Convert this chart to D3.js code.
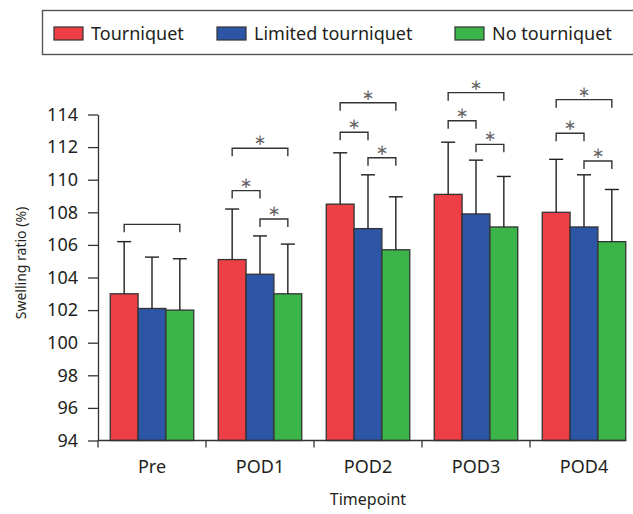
<!DOCTYPE html>
<html>
<head>
<meta charset="utf-8">
<script src="https://cdn.jsdelivr.net/npm/d3@7"></script>
<style>
  body { margin: 0; background: #fff; }
  svg { display: block; font-family: "Noto Sans", sans-serif; }
</style>
</head>
<body>
<svg id="chart" width="633" height="514"></svg>
<script>
// values
const timepoints = ["Pre", "POD1", "POD2", "POD3", "POD4"];
const groups = ["Tourniquet", "Limited tourniquet", "No tourniquet"];
const groupColors = ["#ee3e46", "#2c56a5", "#3bb44a"];

const meanTourniquet = [103.0, 105.1, 108.5, 109.1, 108.0];
const meanLimited    = [102.1, 104.2, 107.0, 107.9, 107.1];
const meanNone       = [102.0, 103.0, 105.7, 107.1, 106.2];

const sdTourniquet = [3.2, 3.1, 3.15, 3.2, 3.25];
const sdLimited    = [3.15, 2.35, 3.3, 3.3, 3.2];
const sdNone       = [3.15, 3.05, 3.25, 3.1, 3.2];

const yTicks = [94, 96, 98, 100, 102, 104, 106, 108, 110, 112, 114];

// significance brackets: timepoint, from group, to group, level (% units), star
const brTime  = ["Pre", "POD1", "POD1", "POD1", "POD2", "POD2", "POD2", "POD3", "POD3", "POD3", "POD4", "POD4", "POD4"];
const brFrom  = [0, 0, 0, 1, 0, 0, 1, 0, 0, 1, 0, 0, 1];
const brTo    = [2, 2, 1, 2, 2, 1, 2, 2, 1, 2, 2, 1, 2];
const brLevel = [107.26, 111.93, 109.33, 107.59, 114.72, 112.91, 111.35, 115.34, 113.62, 112.17, 114.91, 112.85, 111.15];
const brStar  = [false, true, true, true, true, true, true, true, true, true, true, true, true];

const means = [meanTourniquet, meanLimited, meanNone];
const sds = [sdTourniquet, sdLimited, sdNone];

const svg = d3.select("#chart");
const ink = "#231f20";

const y = d3.scaleLinear().domain([94, 114]).range([440.5, 114.5]);
const x0 = d3.scaleBand().domain(timepoints).range([98, 638]);
const x1 = d3.scaleBand().domain(groups).range([0, x0.bandwidth()])
    .paddingInner(0).paddingOuter(0.44);

const rows = [];
timepoints.forEach(function(t, i) {
    groups.forEach(function(g, j) {
        rows.push({ t: t, g: g, j: j, mean: means[j][i], sd: sds[j][i] });
    });
});

function cx(t, g) { return x0(t) + x1(g) + x1.bandwidth() / 2; }

// bars
svg.append("g").selectAll("rect")
    .data(rows)
    .enter().append("rect")
    .attr("x", function(d) { return x0(d.t) + x1(d.g); })
    .attr("y", function(d) { return y(d.mean); })
    .attr("width", x1.bandwidth())
    .attr("height", function(d) { return y(94) - y(d.mean); })
    .attr("fill", function(d) { return groupColors[d.j]; })
    .attr("stroke", "#333")
    .attr("stroke-width", 1.3);

// error bars (upper only)
const eb = svg.append("g").attr("stroke", ink).attr("stroke-width", 1.4);
rows.forEach(function(d) {
    const xc = cx(d.t, d.g);
    eb.append("line")
        .attr("x1", xc).attr("x2", xc)
        .attr("y1", y(d.mean)).attr("y2", y(d.mean + d.sd));
    eb.append("line")
        .attr("x1", xc - 7).attr("x2", xc + 7)
        .attr("y1", y(d.mean + d.sd)).attr("y2", y(d.mean + d.sd));
});

// brackets
const br = svg.append("g");
brTime.forEach(function(t, i) {
    const xa = cx(t, groups[brFrom[i]]);
    const xb = cx(t, groups[brTo[i]]);
    const yl = y(brLevel[i]);
    br.append("path")
        .attr("d", "M" + xa + "," + (yl + 8) + "V" + yl + "H" + xb + "V" + (yl + 8))
        .attr("fill", "none")
        .attr("stroke", "#333")
        .attr("stroke-width", 1.4);
    if (brStar[i]) {
        br.append("text")
            .attr("x", (xa + xb) / 2)
            .attr("y", yl - 3)
            .attr("text-anchor", "middle")
            .style("font-family", "DejaVu Sans")
            .style("font-size", "15px")
            .attr("fill", "#666")
            .text("\u2217");
    }
});

// y axis
const yAxis = svg.append("g")
    .attr("transform", "translate(98,0)")
    .call(d3.axisLeft(y).tickValues(yTicks).tickSize(10).tickSizeOuter(0).tickPadding(10));
yAxis.selectAll("path, line").attr("stroke", "#333").attr("stroke-width", 1.3);
yAxis.selectAll("text").style("font-size", "18px").style("font-family", "Noto Sans").attr("fill", ink);

// x axis
const xEnd = x0(timepoints[timepoints.length - 1]) + x1(groups[groups.length - 1]) + x1.bandwidth();
svg.append("line")
    .attr("x1", 98).attr("x2", xEnd)
    .attr("y1", y(94)).attr("y2", y(94))
    .attr("stroke", "#333").attr("stroke-width", 1.3);
svg.append("g").selectAll("line")
    .data(timepoints)
    .enter().append("line")
    .attr("x1", function(d) { return x0(d); })
    .attr("x2", function(d) { return x0(d); })
    .attr("y1", y(94)).attr("y2", y(94) + 7)
    .attr("stroke", "#333").attr("stroke-width", 1.3);
const xAxis = svg.append("g")
    .attr("transform", "translate(0," + y(94) + ")")
    .call(d3.axisBottom(x0).tickSize(0).tickPadding(20));
xAxis.select(".domain").remove();
xAxis.selectAll("text").style("font-size", "18px").style("font-family", "Noto Sans").attr("fill", ink);

// axis titles
svg.append("text")
    .attr("x", 368).attr("y", 505)
    .attr("text-anchor", "middle")
    .style("font-size", "16px")
    .attr("fill", ink)
    .text("Timepoint");
svg.append("text")
    .attr("transform", "translate(26,263) rotate(-90)")
    .attr("text-anchor", "middle")
    .style("font-size", "14px")
    .attr("fill", ink)
    .text("Swelling ratio (%)");

// legend
const legend = svg.append("g");
legend.append("rect")
    .attr("x", 42.5).attr("y", 10.5)
    .attr("width", 620).attr("height", 44)
    .attr("fill", "none").attr("stroke", "#555").attr("stroke-width", 1.4);
const legX = [54, 217, 455];
groups.forEach(function(g, j) {
    legend.append("rect")
        .attr("x", legX[j]).attr("y", 27)
        .attr("width", 29).attr("height", 13)
        .attr("fill", groupColors[j]).attr("stroke", "#333").attr("stroke-width", 1.2);
    legend.append("text")
        .attr("x", legX[j] + 37).attr("y", 40)
        .style("font-size", "18px")
        .attr("fill", ink)
        .text(g);
});
</script>
</body>
</html>
